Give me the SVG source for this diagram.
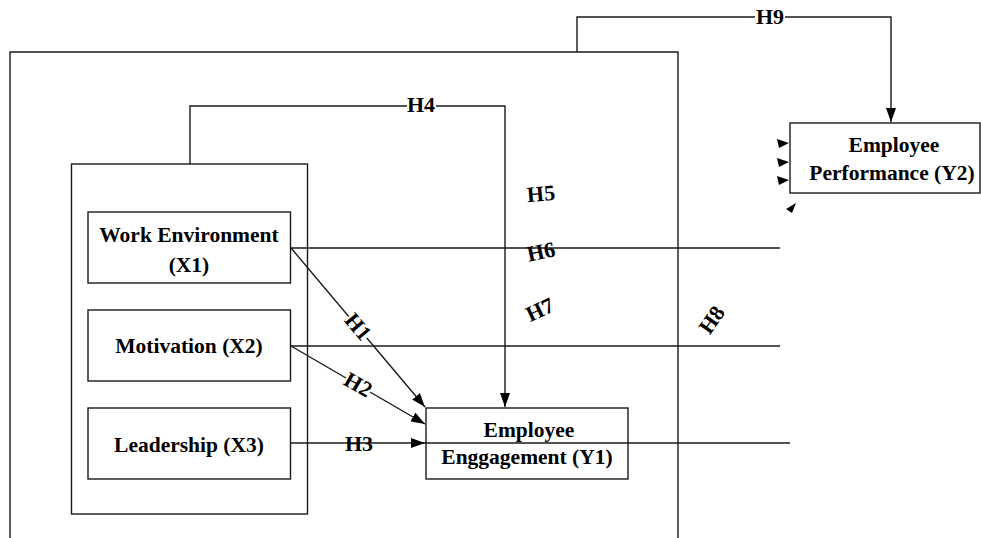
<svg xmlns="http://www.w3.org/2000/svg" width="981" height="538" viewBox="0 0 981 538">
<style>
.box{fill:none;stroke:#1a1a1a;stroke-width:1.4}
.ln{fill:none;stroke:#1a1a1a;stroke-width:1.4}
.t{font-family:"Liberation Serif","Times New Roman",serif;font-weight:bold;font-size:21.5px;fill:#000;text-anchor:middle}
.lb{font-family:"Liberation Serif","Times New Roman",serif;font-weight:bold;font-size:22px;fill:#000;text-anchor:middle}
.ah{fill:#000}
</style>
<defs>
<marker id="arr" viewBox="0 0 14 10" refX="14" refY="5" markerWidth="14" markerHeight="10" markerUnits="userSpaceOnUse" orient="auto">
<path d="M0,0 L14,5 L0,10 Z" fill="#000"/>
</marker>
</defs>
<rect width="981" height="538" fill="#fff"/>
<g id="outer-frame">
<path class="box" d="M10,538 V52 H678 V538"/>
</g>
<g id="independent-group">
<rect class="box" x="71.5" y="164" width="236" height="350"/>
</g>
<g id="connectors">
<path class="ln" d="M190,164 V106 H505 V407" marker-end="url(#arr)"/>
<path class="ln" d="M577,52 V17 H891 V122" marker-end="url(#arr)"/>
<path class="ln" d="M291,248 L425,407" marker-end="url(#arr)"/>
<path class="ln" d="M291,346 L425,424" marker-end="url(#arr)"/>
<path class="ln" d="M291,443 H425" marker-end="url(#arr)"/>
<path class="ln" d="M425,443 H790"/>
<path class="ln" d="M291,248 H780"/>
<path class="ln" d="M291,346 H780"/>
<path class="ah" d="M777,139 L789,143 L779,148 Z"/>
<path class="ah" d="M777,158 L789,162 L779,167 Z"/>
<path class="ah" d="M777,176 L789,180 L779,185 Z"/>
<path class="ah" d="M796,203 L792,213 L786,209 Z"/>
<rect x="407" y="96" width="29" height="18" fill="#fff"/>
<text class="lb" x="421" y="112">H4</text>
<rect x="755" y="8" width="30" height="18" fill="#fff"/>
<text class="lb" x="770" y="24">H9</text>
<text class="lb" x="359" y="451">H3</text>
<g transform="translate(358,327) rotate(50)"><rect x="-14" y="-10" width="28" height="20" fill="#fff"/><text class="lb" x="0" y="7">H1</text></g>
<g transform="translate(358,385) rotate(30)"><rect x="-14" y="-10" width="28" height="20" fill="#fff"/><text class="lb" x="0" y="7">H2</text></g>
<text class="lb" transform="translate(541,194) rotate(-5)" x="0" y="7">H5</text>
<text class="lb" transform="translate(541,252) rotate(-12)" x="0" y="7">H6</text>
<text class="lb" transform="translate(540,310) rotate(-25)" x="0" y="7">H7</text>
<text class="lb" transform="translate(712,320) rotate(-55)" x="0" y="7">H8</text>
</g>
<g id="x1">
<rect class="box" x="88" y="212" width="202.5" height="71"/>
<text class="t" x="189" y="242">Work Environment</text>
<text class="t" x="189" y="272">(X1)</text>
</g>
<g id="x2">
<rect class="box" x="88" y="310" width="202.5" height="71"/>
<text class="t" x="189" y="353">Motivation (X2)</text>
</g>
<g id="x3">
<rect class="box" x="88" y="408" width="202.5" height="71"/>
<text class="t" x="189" y="452">Leadership (X3)</text>
</g>
<g id="y1">
<rect class="box" x="426" y="408" width="202" height="71"/>
<text class="t" x="529" y="437">Employee</text>
<text class="t" x="527" y="464">Enggagement (Y1)</text>
</g>
<g id="y2">
<rect class="box" x="790" y="123" width="190" height="70"/>
<text class="t" x="894" y="152">Employee</text>
<text class="t" x="892" y="180">Performance (Y2)</text>
</g>
</svg>
